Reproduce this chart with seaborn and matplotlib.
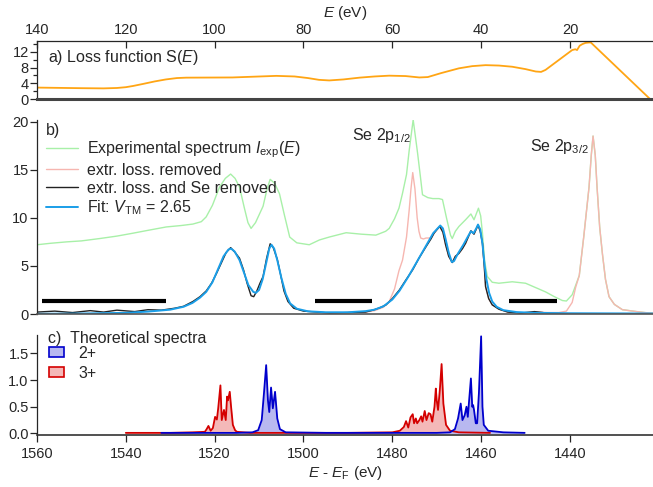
import numpy as np
import matplotlib
matplotlib.use("Agg")
import matplotlib.pyplot as plt
from matplotlib.lines import Line2D
from matplotlib.patches import Patch
import seaborn as sns

# ---- a) loss function (energy loss E, eV) ----
loss_E = [140, 130, 125, 122, 120, 118.4, 116, 113.5, 111, 108.5, 106.4, 96, 86.1, 82,
          79, 76.5, 74.2, 71, 67.4, 64, 60.7, 57, 53.9, 52, 49, 45, 42, 39, 36, 33,
          30, 27.7, 26.5, 25.5, 22.5, 19.5, 18.8, 18.4, 17.8, 17.2, 16.5, 15.7, 15.3, 1.9]
loss_S = [2.95, 2.8, 2.75, 2.85, 3.05, 3.35, 3.9, 4.5, 5.0, 5.35, 5.45, 5.5, 5.9, 5.75,
          5.35, 4.9, 4.75, 5.0, 5.45, 5.75, 5.95, 5.85, 5.5, 5.6, 6.6, 7.8, 8.35, 8.6, 8.5, 8.2,
          7.6, 7.0, 6.9, 7.4, 9.9, 12.4, 12.6, 12.4, 13.5, 13.9, 14.2, 14.3, 14.3, 0.0]

# ---- b) measured spectra (binding energy E - E_F, eV) ----
exp_E = [1560, 1557, 1553.3, 1550, 1545.8, 1542, 1538.4, 1535, 1530.9, 1527.5, 1524.9,
         1523, 1521.9, 1520.5, 1518.9, 1517.6, 1516.4, 1515.4, 1514.4, 1513.3, 1512.5,
         1511.8, 1510.8, 1509.8, 1509.1, 1508.2, 1507.5, 1506.5, 1505.4, 1504.3, 1503.1,
         1501.5, 1498.7, 1496.4, 1494.2, 1490.4, 1487, 1483.7, 1481.5, 1480.7, 1479.5,
         1478.5, 1477.7, 1476.8, 1476.2, 1475.3, 1474.3, 1473.6, 1473.2, 1472, 1470.9,
         1469.5, 1468.7, 1467.8, 1466.9, 1466.5, 1465.8, 1465, 1463.5, 1462.3, 1461.6,
         1460.6, 1460.1, 1459.7, 1459.2, 1458.6, 1457.5, 1456, 1453, 1450, 1448, 1445.5,
         1443.5, 1441.7, 1440.8, 1439.5, 1438.7, 1437.9, 1436.9, 1435.7, 1435.2, 1434.8,
         1434.3, 1433.9, 1433.3, 1432.7, 1432, 1431.2, 1430, 1428.2, 1425, 1422.2, 1421.3]
exp_I = [7.2, 7.35, 7.5, 7.6, 7.85, 8.1, 8.4, 8.7, 9.05, 9.2, 9.35,
         9.6, 10.1, 11.3, 13.2, 14.1, 14.55, 14.1, 13.2, 11.0, 9.5,
         8.9, 9.5, 10.5, 11.2, 13.0, 14.0, 13.6, 12.5, 10.3, 8.0,
         7.4, 7.2, 7.7, 8.0, 8.45, 8.3, 8.2, 8.6, 8.9, 9.9,
         11.0, 12.55, 14.5, 17.0, 20.2, 16.7, 14.0, 12.4, 12.1, 12.0,
         12.0, 11.9, 10.0, 8.2, 7.85, 8.6, 9.1, 9.8, 10.4, 9.8,
         11.0, 10.2, 8.4, 5.5, 3.9, 3.3, 3.2, 3.35, 3.2, 2.8, 2.3,
         1.8, 1.4, 1.35, 2.0, 3.0, 4.0, 8.0, 13.2, 16.5, 18.5,
         16.5, 13.2, 9.0, 6.3, 3.6, 1.8, 1.0, 0.45, 0.25, 0.1, 0.1]

noloss_E = [1490, 1486, 1484, 1482, 1480.7, 1479.5, 1478.5, 1477.7, 1476.8, 1476.2, 1475.8,
            1475.4, 1474.9, 1474.4, 1474.0, 1473.6, 1473.0, 1472.4, 1471.3, 1470.6, 1469.9,
            1469.3, 1468.6, 1468, 1467.3, 1466.5, 1465.8, 1465, 1464.2, 1463.5, 1462.3,
            1461.6, 1460.7, 1460.2, 1459.7, 1459.3, 1459, 1458.3, 1457.5, 1456, 1454,
            1451, 1448, 1445, 1442.5, 1440.8, 1439.5, 1438.7, 1437.9, 1436.9, 1435.7,
            1435.2, 1434.8, 1434.3, 1433.9, 1433.3, 1432.7, 1432, 1431.2, 1430, 1428.2,
            1425, 1422.2, 1421.3]
noloss_I = [0.15, 0.2, 0.35, 0.7, 1.3, 2.6, 4.5, 5.6, 8.0, 10.8, 13.0,
            14.7, 13.0, 10.0, 8.6, 7.9, 7.8, 7.9, 7.9, 8.4, 8.8,
            9.1, 8.5, 7.2, 6.0, 5.35, 6.0, 6.3, 6.8, 7.35, 8.65,
            8.3, 9.25, 8.6, 7.35, 5.0, 2.85, 1.6, 0.95, 0.5, 0.2,
            0.1, 0.2, 0.15, 0.15, 0.3, 1.2, 2.8, 4.0, 8.0, 13.2,
            16.5, 18.5, 16.5, 13.2, 9.0, 6.3, 3.6, 1.8, 1.0, 0.45,
            0.25, 0.1, 0.1]

clean_E = [1560, 1556, 1552, 1548, 1545, 1542, 1538, 1535, 1532, 1529, 1527, 1524.9,
           1523.3, 1521.9, 1520.7, 1519.6, 1518.5, 1517.4, 1516.4, 1515.4, 1514.4, 1513.5,
           1512.7, 1511.8, 1511.2, 1510.5, 1509.8, 1509.1, 1508.3, 1507.5, 1506.8, 1505.9,
           1505.2, 1504.4, 1503.5, 1502.2, 1500, 1497, 1494, 1490, 1486, 1484.4, 1482.8,
           1481.4, 1480, 1478.4, 1477, 1475.4, 1474, 1472.4, 1471.3, 1470.6, 1469.9, 1469.3,
           1468.6, 1468, 1467.3, 1466.5, 1465.8, 1465, 1464.2, 1463.5, 1462.3, 1461.6,
           1460.7, 1460.2, 1459.7, 1459.3, 1459, 1458.3, 1457.5, 1456, 1454, 1451, 1448, 1446]
clean_I = [0.2, 0.3, 0.15, 0.35, 0.2, 0.4, 0.25, 0.45, 0.4, 0.6, 0.8, 1.3,
           1.8, 2.4, 3.2, 4.2, 5.3, 6.4, 6.9, 6.4, 5.8, 4.6,
           3.2, 1.9, 1.8, 2.4, 3.2, 3.9, 5.8, 7.3, 6.9, 5.7,
           4.2, 2.4, 1.3, 0.6, 0.3, 0.2, 0.1, 0.15, 0.2, 0.4, 0.65,
           0.95, 1.6, 2.5, 3.5, 4.6, 5.8, 7.0, 7.8, 8.4, 8.8, 9.1,
           8.5, 7.2, 6.0, 5.35, 6.0, 6.3, 6.8, 7.35, 8.65, 8.3,
           9.25, 8.6, 7.35, 5.0, 2.85, 1.6, 0.95, 0.5, 0.2, 0.1, 0.25, 0.15]

fit_E = [1560, 1550, 1540, 1535, 1530, 1527, 1525, 1523.3, 1521.9, 1520.5, 1519.3, 1518,
         1516.9, 1516.3, 1515.5, 1514.4, 1513.4, 1512.4, 1511.3, 1510.7, 1510, 1509.2,
         1508.3, 1507.7, 1507.2, 1506.6, 1505.9, 1505, 1504, 1503, 1501.5, 1499, 1495,
         1490, 1486, 1484, 1482, 1480, 1478.4, 1476.5, 1474.5, 1472.4, 1470.8, 1469.6,
         1469.2, 1468.6, 1468, 1467.3, 1466.6, 1466.1, 1465.2, 1464, 1462.8, 1462.3,
         1461.7, 1461.1, 1460.7, 1460.2, 1459.7, 1459.2, 1458.8, 1458.2, 1457.5, 1456.5,
         1455, 1452, 1448, 1440, 1421.3]
fit_I = [0.02, 0.05, 0.12, 0.25, 0.45, 0.75, 1.15, 1.7, 2.3, 3.3, 4.6, 6.0,
         6.7, 6.8, 6.5, 5.6, 4.3, 3.0, 2.3, 2.2, 2.5, 3.6,
         5.5, 6.8, 7.2, 6.8, 5.6, 3.8, 2.1, 1.1, 0.55, 0.28, 0.18,
         0.18, 0.3, 0.45, 0.8, 1.5, 2.4, 3.8, 5.4, 7.1, 8.4, 9.0,
         9.2, 8.9, 7.8, 6.4, 5.4, 5.5, 6.3, 7.2, 8.2, 8.6,
         8.4, 8.9, 9.3, 8.8, 7.3, 5.0, 3.6, 2.2, 1.3, 0.75,
         0.4, 0.2, 0.12, 0.08, 0.05]

# background windows (start, end) at level 1.3
bg_windows = [(1558.9, 1531.0), (1497.4, 1484.5), (1453.7, 1443.0)]

# ---- c) theoretical spectra ----
th3_E = [1540, 1530, 1525, 1522.2, 1521.8, 1521.4, 1520.9, 1520.4, 1519.9, 1519.5, 1519.2,
         1518.7, 1518.4, 1517.9, 1517.5, 1517.2, 1517.0, 1516.6, 1516.3, 1515.9, 1515.4,
         1515.0, 1512, 1490, 1480, 1478.3, 1477.4, 1476.9, 1476.4, 1475.9, 1475.4, 1475.1,
         1474.7, 1474.4, 1473.9, 1473.5, 1473.2, 1472.7, 1472.3, 1471.8, 1471.4, 1471.0,
         1470.5, 1470.2, 1470.0, 1469.7, 1469.3, 1468.9, 1468.5, 1467.9, 1467.0, 1465, 1458]
th3_I = [0.01, 0.01, 0.02, 0.03, 0.08, 0.14, 0.05, 0.1, 0.31, 0.26, 0.47,
         0.9, 0.25, 0.44, 0.25, 0.69, 0.62, 0.78, 0.5, 0.16, 0.06,
         0.03, 0.01, 0.01, 0.02, 0.05, 0.12, 0.23, 0.11, 0.30, 0.36, 0.19,
         0.28, 0.19, 0.25, 0.32, 0.22, 0.42, 0.25, 0.38, 0.36, 0.22,
         0.5, 0.84, 0.62, 0.44, 0.81, 1.30, 0.56, 0.16, 0.05, 0.02, 0.01]

th2_E = [1532, 1515, 1511.5, 1510.2, 1509.4, 1508.9, 1508.4, 1508.0, 1507.7, 1507.3, 1506.9,
         1506.4, 1505.9, 1505.3, 1504, 1495, 1470, 1467, 1465.9, 1465.2, 1464.6, 1464.2,
         1463.7, 1463.3, 1463.0, 1462.7, 1462.3, 1462.0, 1461.8, 1461.6, 1461.2, 1460.9,
         1460.5, 1460.0, 1459.7, 1459.4, 1458.4, 1455, 1450.2]
th2_I = [0.01, 0.01, 0.02, 0.06, 0.25, 0.75, 1.28, 0.62, 0.4, 0.86, 0.47,
         0.78, 0.28, 0.08, 0.02, 0.01, 0.01, 0.02, 0.08, 0.28, 0.56, 0.25,
         0.34, 0.50, 0.31, 0.62, 1.03, 0.50, 0.53, 0.44, 0.19, 0.19,
         0.75, 1.82, 0.5, 0.16, 0.05, 0.02, 0.01]

GREEN = "#a8f0a8"
PINK = "#f6b6b0"
FITBLUE = "#1a9ee8"
ORANGE = "#ffa514"

sns.set_style("ticks")
plt.rcParams["font.family"] = ["Liberation Sans", "DejaVu Sans"]
plt.rcParams["mathtext.fontset"] = "custom"
plt.rcParams["mathtext.rm"] = "Liberation Sans"
plt.rcParams["mathtext.it"] = "Liberation Sans:italic"
plt.rcParams["font.size"] = 11.5
plt.rcParams["xtick.labelsize"] = 10.5
plt.rcParams["ytick.labelsize"] = 10.5

fig = plt.figure(figsize=(6.53, 4.87), dpi=100)
L, W = 37 / 653, 616 / 653
ax_a = fig.add_axes([L, 1 - 99.3 / 487, W, 58.3 / 487])
ax_b = fig.add_axes([L, 1 - 314 / 487, W, 194 / 487])
ax_c = fig.add_axes([L, 1 - 435 / 487, W, 100 / 487])

# ---- panel a ----
sns.lineplot(x=loss_E, y=loss_S, ax=ax_a, sort=False, color=ORANGE, lw=1.3)
ax_a.set_xlim(140, 1.3)
ax_a.set_ylim(0, 14.68)
ax_a.xaxis.tick_top()
ax_a.xaxis.set_label_position("top")
ax_a.set_xticks([140, 120, 100, 80, 60, 40, 20])
ax_a.set_yticks([0, 4, 8, 12])
ax_a.set_yticks([2, 6, 10, 14], minor=True)
ax_a.tick_params(axis="x", direction="in", length=5, width=0.9, pad=3)
ax_a.tick_params(axis="y", which="major", direction="out", length=5, width=0.9, pad=1)
ax_a.tick_params(axis="y", which="minor", direction="out", length=3, width=0.9)
ax_a.set_xlabel("$E$ (eV)", labelpad=4, fontsize=11)
ax_a.set_ylabel("")
ax_a.spines["right"].set_visible(False)
ax_a.spines["bottom"].set_linewidth(2.2)
ax_a.spines["bottom"].set_color("#444444")
ax_a.spines["top"].set_linewidth(0.9)
ax_a.spines["left"].set_linewidth(0.9)
ax_a.text(0.018, 0.72, "a) Loss function S($E$)", transform=ax_a.transAxes,
          ha="left", va="center")

# ---- panel b ----
sns.lineplot(x=exp_E, y=exp_I, ax=ax_b, sort=False, color=GREEN, lw=1.0)
sns.lineplot(x=noloss_E, y=noloss_I, ax=ax_b, sort=False, color=PINK, lw=1.0)
sns.lineplot(x=clean_E, y=clean_I, ax=ax_b, sort=False, color="#222222", lw=1.0)
sns.lineplot(x=fit_E, y=fit_I, ax=ax_b, sort=False, color=FITBLUE, lw=1.4)
for x0, x1 in bg_windows:
    ax_b.plot([x0, x1], [1.3, 1.3], color="black", lw=3, solid_capstyle="butt")
ax_b.set_xlim(1560, 1421.3)
ax_b.set_ylim(0, 20.17)
ax_b.set_xticks([])
ax_b.set_yticks([0, 5, 10, 15, 20])
ax_b.tick_params(axis="y", direction="out", length=5, width=0.9, pad=1)
ax_b.set_xlabel("")
ax_b.set_ylabel("")
ax_b.spines["right"].set_visible(False)
ax_b.spines["top"].set_visible(False)
ax_b.spines["left"].set_linewidth(0.9)
ax_b.spines["bottom"].set_linewidth(1.2)
ax_b.spines["bottom"].set_color("#555555")
ax_b.text(0.014, 0.945, "b)", transform=ax_b.transAxes, ha="left", va="center")
ax_b.text(1475.8, 18.6, "Se 2p$_{1/2}$", ha="right", va="center")
ax_b.text(1435.8, 17.4, "Se 2p$_{3/2}$", ha="right", va="center")
handles_b = [Line2D([], [], color=GREEN, lw=1.0),
             Line2D([], [], color=PINK, lw=1.0),
             Line2D([], [], color="#222222", lw=1.0),
             Line2D([], [], color=FITBLUE, lw=1.4)]
labels_b = ["Experimental spectrum $I_\\mathrm{exp}(E)$", "extr. loss. removed",
            "extr. loss. and Se removed", "Fit: $V_\\mathrm{TM}$ = 2.65"]
ax_b.legend(handles_b, labels_b, loc="upper left", bbox_to_anchor=(0.014, 0.9),
            frameon=False, borderpad=0, borderaxespad=0, handlelength=2.0,
            handletextpad=0.6, labelspacing=0.18, fontsize=11.5)

# ---- panel c ----
ax_c.fill_between(th3_E, th3_I, 0, color="#f4b8b8", lw=0)
ax_c.fill_between(th2_E, th2_I, 0, color="#b8b8f0", lw=0)
sns.lineplot(x=th3_E, y=th3_I, ax=ax_c, sort=False, color="#d40000", lw=1.3)
sns.lineplot(x=th2_E, y=th2_I, ax=ax_c, sort=False, color="#0000cc", lw=1.3)
ax_c.set_xlim(1560, 1421.3)
ax_c.set_ylim(-0.03, 1.845)
ax_c.set_xticks([1560, 1540, 1520, 1500, 1480, 1460, 1440])
ax_c.set_yticks([0.0, 0.5, 1.0, 1.5])
ax_c.set_yticklabels(["0.0", "0.5", "1.0", "1.5"])
ax_c.tick_params(axis="y", direction="out", length=5, width=0.9, pad=1)
ax_c.tick_params(axis="x", direction="out", length=5, width=0.9, pad=4)
ax_c.set_xlabel("$E$ - $E_\\mathrm{F}$ (eV)", labelpad=2, fontsize=11)
ax_c.set_ylabel("")
ax_c.spines["right"].set_visible(False)
ax_c.spines["top"].set_visible(False)
ax_c.spines["left"].set_linewidth(0.9)
ax_c.spines["bottom"].set_linewidth(1.2)
ax_c.spines["bottom"].set_color("#333333")
ax_c.text(0.018, 0.97, "c)  Theoretical spectra", transform=ax_c.transAxes,
          ha="left", va="center")
handles_c = [Patch(facecolor="#b8b8f0", edgecolor="#0000cc", lw=1.2),
             Patch(facecolor="#f4b8b8", edgecolor="#d40000", lw=1.2)]
ax_c.legend(handles_c, ["2+", "3+"], loc="upper left", bbox_to_anchor=(0.02, 0.89),
            frameon=False, borderpad=0, borderaxespad=0, handlelength=0.9,
            handleheight=0.6, handletextpad=0.9, labelspacing=0.3, fontsize=11.5)

fig.savefig("out.png", dpi=100)
